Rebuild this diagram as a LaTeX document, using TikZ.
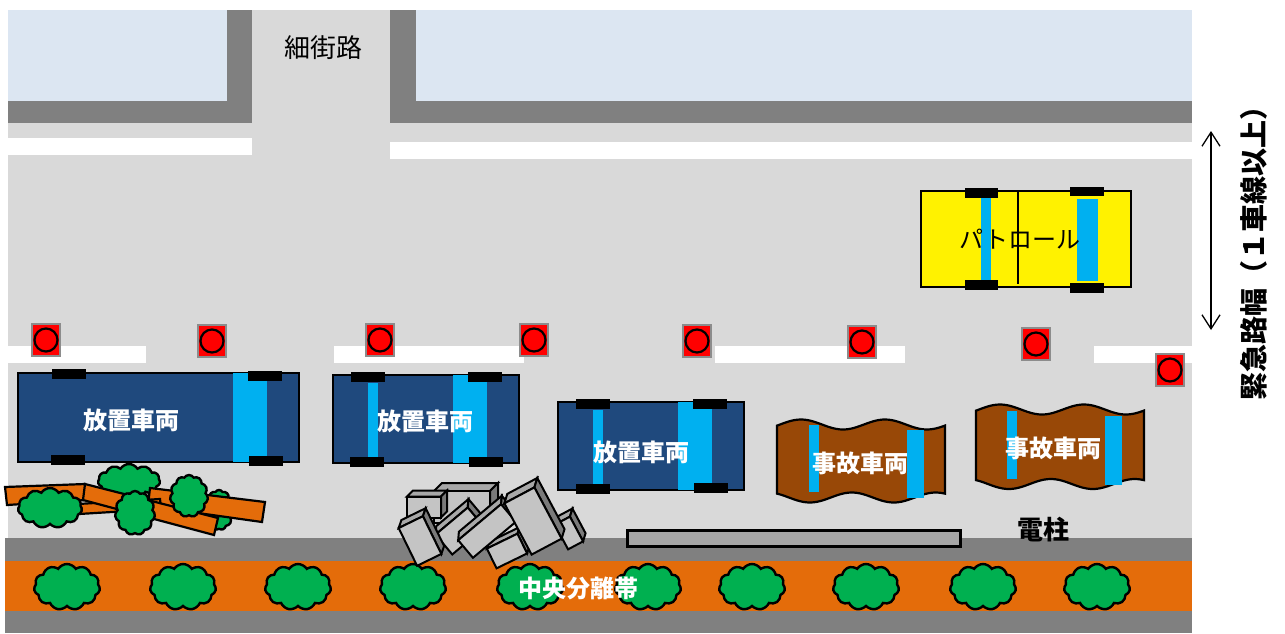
\documentclass[tikz,border=0pt]{standalone}
\usepackage{fontspec}
\newfontfamily\jp{Noto Sans CJK JP}
\usetikzlibrary{shapes.symbols,arrows.meta}

\definecolor{roadgray}{HTML}{D9D9D9}
\definecolor{curb}{HTML}{808080}
\definecolor{blockblue}{HTML}{DCE6F2}
\definecolor{carblue}{HTML}{1F497D}
\definecolor{stripeblue}{HTML}{00B0F0}
\definecolor{wreckbrown}{HTML}{984807}
\definecolor{medianorange}{HTML}{E46C0A}
\definecolor{treegreen}{HTML}{00B050}
\definecolor{polegray}{HTML}{A6A6A6}
\definecolor{markgray}{HTML}{8C8C8C}
\definecolor{rubfrontc}{HTML}{C4C4C4}
\definecolor{rubtopc}{HTML}{A8A8A8}
\definecolor{rubsidec}{HTML}{7A7A7A}

% one cuboid of concrete rubble: centre x, centre y, width, height, depth, angle
\newcommand\rubblebox[6]{%
  \begin{scope}[shift={(#1,#2)},rotate=#6]
    \filldraw[rubtop] (-#3/2,-#4/2) -- ++(#5,-#5) -- ++(#3,0) -- (#3/2,-#4/2) -- cycle;
    \filldraw[rubside] (#3/2,-#4/2) -- ++(#5,-#5) -- ++(0,#4) -- (#3/2,#4/2) -- cycle;
    \filldraw[rubfront] (-#3/2,-#4/2) rectangle (#3/2,#4/2);
  \end{scope}}

% a wrecked car outline with wavy long sides: left x, top line, bottom line
\newcommand\wreckbody[3]{%
  \filldraw[wreck] plot[domain=0:168,samples=60,variable=\t] ({#1+\t},{#2+5*sin(4.29*\t-193)})
    -- plot[domain=168:0,samples=60,variable=\t] ({#1+\t},{#3+5*sin(4.29*\t-51)}) -- cycle;}

\begin{document}
\begin{tikzpicture}[x=0.5pt,y=-0.5pt,
  carbody/.style={draw=black,line width=1pt,fill=carblue},
  patrolbody/.style={draw=black,line width=1pt,fill=yellow},
  stripe/.style={fill=stripeblue},
  wheel/.style={fill=black},
  wreck/.style={draw=black,line width=1.1pt,fill=wreckbrown},
  carlabel/.style={font=\jp\bfseries\fontsize{12}{14}\selectfont,text=white,inner sep=0pt},
  blacklabel/.style={font=\jp\fontsize{12}{14}\selectfont,text=black,inner sep=0pt},
  boldlabel/.style={font=\jp\bfseries\fontsize{13}{15}\selectfont,text=black,inner sep=0pt},
  markerbox/.style={rectangle,draw=markgray,line width=1.1pt,fill=red,minimum width=14pt,minimum height=16pt,inner sep=0pt},
  markerdot/.style={circle,draw=black,line width=1.1pt,minimum size=11.5pt,inner sep=0pt},
  bush/.style={cloud,cloud puffs=11,cloud puff arc=115,cloud ignores aspect,draw=black,line width=1.2pt,fill=treegreen,inner sep=0pt},
  plank/.style={draw=black,line width=1.1pt,fill=medianorange},
  rubfront/.style={draw=black,line width=1pt,fill=rubfrontc},
  rubtop/.style={draw=black,line width=1pt,fill=rubtopc},
  rubside/.style={draw=black,line width=1pt,fill=rubsidec},
  pole/.style={draw=black,line width=1.5pt,fill=polegray}
]
\useasboundingbox (0,0) rectangle (1285,633);
\fill[white] (0,0) rectangle (1285,633);

% road surface, building blocks and sidewalks
\fill[roadgray] (8,10) rectangle (1192,538);
\fill[blockblue] (8,10) rectangle (227,101);
\fill[blockblue] (416,10) rectangle (1192,101);
\fill[curb] (8,101) rectangle (252,123);
\fill[curb] (227,10) rectangle (252,123);
\fill[curb] (390,101) rectangle (1192,123);
\fill[curb] (390,10) rectangle (416,123);

% lane markings
\fill[white] (8,138) rectangle (252,155);
\fill[white] (390,142) rectangle (1192,159);
\fill[white] (8,346) rectangle (146,363);
\fill[white] (334,346) rectangle (524,363);
\fill[white] (715,346) rectangle (905,363);
\fill[white] (1094,346) rectangle (1192,363);

% central reservation
\fill[curb] (5,538) rectangle (1192,561);
\fill[medianorange] (5,561) rectangle (1192,611);
\fill[curb] (5,611) rectangle (1192,633);

\node[blacklabel,font=\jp\fontsize{13}{15}\selectfont] (side) at (323,48) {細街路};

% warning lamps
\foreach \i/\x/\y in {1/46/340,2/212/341,3/380/340,4/534/340,5/697/341,6/862/342,7/1036/344,8/1170/370}{
  \node[markerbox] (m\i) at (\x,\y) {};
  \node[markerdot] (d\i) at (m\i) {};
}

% abandoned car 1
\draw[carbody] (18,373) rectangle (299,462);
\fill[stripe] (233,373) rectangle (267,462);
\fill[wheel] (52,369) rectangle (86,379);
\fill[wheel] (248,371) rectangle (282,381);
\fill[wheel] (51,455) rectangle (85,465);
\fill[wheel] (249,456) rectangle (283,466);
\node[carlabel] (car1) at (131,420) {放置車両};

% abandoned car 2
\draw[carbody] (333,375) rectangle (519,463);
\fill[stripe] (368,383) rectangle (378,457);
\fill[stripe] (453,375) rectangle (487,463);
\fill[wheel] (351,372) rectangle (385,382);
\fill[wheel] (468,372) rectangle (502,382);
\fill[wheel] (350,457) rectangle (384,467);
\fill[wheel] (469,457) rectangle (503,467);
\node[carlabel] (car2) at (425,421) {放置車両};

% abandoned car 3
\draw[carbody] (558,402) rectangle (744,490);
\fill[stripe] (593,410) rectangle (603,485);
\fill[stripe] (678,402) rectangle (712,490);
\fill[wheel] (576,399) rectangle (610,409);
\fill[wheel] (693,399) rectangle (727,409);
\fill[wheel] (576,484) rectangle (610,494);
\fill[wheel] (694,483) rectangle (728,493);
\node[carlabel] (car3) at (641,452) {放置車両};

% patrol car
\draw[patrolbody] (921,191) rectangle (1131,287);
\draw[line width=0.8pt] (1018,191) -- (1018,284);
\fill[stripe] (981,198) rectangle (991,281);
\fill[stripe] (1077,199) rectangle (1098,281);
\fill[wheel] (965,188) rectangle (998,198);
\fill[wheel] (1070,187) rectangle (1104,196);
\fill[wheel] (965,280) rectangle (998,290);
\fill[wheel] (1070,283) rectangle (1104,293);
\node[blacklabel] (patrol) at (1020,239) {パトロール};

% wrecked cars
\wreckbody{777}{424.5}{497.5}
\fill[stripe] (809,425) rectangle (819,492);
\fill[stripe] (907,430) rectangle (924,498);
\node[carlabel] (wreck1) at (860,463) {事故車両};
\wreckbody{976}{409.5}{484}
\fill[stripe] (1007,411) rectangle (1017,479);
\fill[stripe] (1105,416) rectangle (1122,485);
\node[carlabel] (wreck2) at (1053,448) {事故車両};

% fallen utility pole
\draw[pole] (627,530) rectangle (960,546);
\node[boldlabel] (poletxt) at (1043,530) {電柱};

% fallen trees and timber on the left
\node[bush,minimum width=15pt,minimum height=20pt] (b5) at (219,510) {};
\node[bush,minimum width=31pt,minimum height=17pt] (b2) at (129,481) {};
\filldraw[plank] (5,487) -- (85,484) -- (86,500) -- (7,505) -- cycle;
\filldraw[plank] (150,488) -- (265,502) -- (262,522) -- (148,506) -- cycle;
\filldraw[plank] (78,504) -- (160,499) -- (161,509) -- (79,514) -- cycle;
\filldraw[plank] (85,484) -- (218,518) -- (214,535) -- (83,500) -- cycle;
\node[bush,minimum width=32pt,minimum height=20pt] (b1) at (50,508) {};
\node[bush,minimum width=20pt,minimum height=22pt] (b3) at (135,513) {};
\node[bush,minimum width=19pt,minimum height=21pt] (b4) at (189,496) {};

% shrubs along the central reservation
\foreach \i/\x in {1/67,2/183,3/298,4/413,5/530,6/648,7/752,8/866,9/983,10/1097}{
  \node[bush,minimum width=33pt,minimum height=23pt] (t\i) at (\x,587) {};
}

% collapsed concrete blocks
\rubblebox{462}{507}{56}{32}{8}{0}
\rubblebox{424}{507}{34}{21}{6}{0}
\rubblebox{460}{531}{42}{26}{6}{40}
\rubblebox{507}{551}{34}{22}{5}{26}
\rubblebox{569}{533}{17}{28}{6}{28}
\rubblebox{420}{541}{27}{42}{6}{26}
\rubblebox{487}{531}{56}{23}{6}{40}
\rubblebox{533}{521}{34}{58}{7}{28}

\node[carlabel] (median) at (578,588) {中央分離帯};

% required emergency width
\coordinate (wtop) at (1211,131);
\coordinate (wbot) at (1211,330);
\draw[line width=0.65pt,{Straight Barb[length=7pt,width=9pt]}-{Straight Barb[length=7pt,width=9pt]}] (wtop) -- (wbot);
\node[boldlabel,font=\jp\bfseries\fontsize{14}{16}\selectfont,rotate=90] (width) at (1254,246) {緊急路幅（１車線以上）};
\end{tikzpicture}
\end{document}
